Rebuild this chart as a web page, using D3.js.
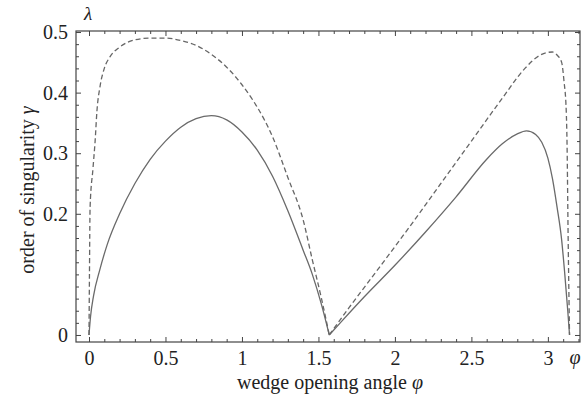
<!DOCTYPE html>
<html>
<head>
<meta charset="utf-8">
<script src="https://cdn.jsdelivr.net/npm/d3@7"></script>
<style>
	body { margin: 0; background: #fff; }
	svg text { font-family: "Liberation Serif", "DejaVu Serif", serif; fill: #222; }
	.frame-axis .domain { display: none; }
	.frame-axis line { stroke: #444; stroke-width: 1; }
</style>
</head>
<body>
<div id="chart"></div>
<script>
// wedge opening angle (rad) and order of singularity
const solidPhi = [0, 0.01, 0.03, 0.07, 0.12, 0.2, 0.3, 0.4, 0.5, 0.6, 0.7, 0.8, 0.9, 1.0, 1.1, 1.2, 1.3, 1.4, 1.46, 1.52, 1.5708,
	1.65, 1.8, 2.0, 2.2, 2.4, 2.6, 2.7, 2.8, 2.86, 2.92, 2.96, 3.0, 3.03, 3.06, 3.09, 3.11, 3.13, 3.1416];
const solidVal = [0, 0.03, 0.065, 0.107, 0.15, 0.2, 0.25, 0.29, 0.32, 0.343, 0.357, 0.362, 0.355, 0.335, 0.305, 0.262, 0.205, 0.14, 0.1, 0.05, 0,
	0.022, 0.063, 0.115, 0.17, 0.228, 0.29, 0.315, 0.332, 0.337, 0.331, 0.318, 0.292, 0.258, 0.211, 0.157, 0.102, 0.04, 0];

const dashedPhi = [0, 0.003, 0.007, 0.026, 0.04, 0.052, 0.072, 0.1, 0.137, 0.2, 0.3, 0.4, 0.5, 0.6, 0.7, 0.8, 0.9, 1.0, 1.07, 1.1, 1.2, 1.3, 1.4, 1.46, 1.52, 1.5708,
	1.7, 1.9, 2.1, 2.3, 2.5, 2.7, 2.85, 2.95, 2.99, 3.03, 3.06, 3.09, 3.105, 3.12, 3.125, 3.133, 3.1416];
const dashedVal = [0, 0.1, 0.21, 0.275, 0.32, 0.37, 0.41, 0.44, 0.459, 0.475, 0.487, 0.49, 0.49, 0.486, 0.478, 0.463, 0.442, 0.413, 0.388, 0.376, 0.327, 0.26, 0.19, 0.124, 0.06, 0,
	0.045, 0.112, 0.18, 0.25, 0.32, 0.39, 0.44, 0.462, 0.466, 0.467, 0.462, 0.45, 0.42, 0.37, 0.32, 0.15, 0];

const xMajor = [0, 0.5, 1, 1.5, 2, 2.5, 3];
const yMajor = [0, 0.2, 0.3, 0.4, 0.5];

const width = 582;
const height = 399;
const frame = { left: 76, right: 580, top: 31, bottom: 342 };

const svg = d3.select("#chart")
	.append("svg")
	.attr("width", width)
	.attr("height", height);

const x = d3.scaleLinear()
	.domain([-0.085, 3.21])
	.range([frame.left, frame.right]);

const y = d3.scaleLinear()
	.domain([-0.0116, 0.5017])
	.range([frame.bottom, frame.top]);

const xMinor = d3.range(0, 3.21, 0.1).filter(v => Math.abs(v * 2 - Math.round(v * 2)) > 1e-6);
const yMinor = d3.range(0, 0.501, 0.02).filter(v => !yMajor.some(m => Math.abs(m - v) < 1e-6));

// ticks on all four sides, pointing in
const axes = svg.append("g").attr("class", "frame-axis");

axes.append("g")
	.attr("transform", `translate(0,${frame.bottom})`)
	.call(d3.axisBottom(x).tickValues(xMajor).tickSize(-5).tickPadding(9).tickFormat(d3.format("")))
	.call(g => g.selectAll("text").style("font-size", "20px").attr("fill", "#222"));
axes.append("g")
	.attr("transform", `translate(0,${frame.bottom})`)
	.call(d3.axisBottom(x).tickValues(xMinor).tickSize(-3).tickFormat(""));
axes.append("g")
	.attr("transform", `translate(0,${frame.top})`)
	.call(d3.axisTop(x).tickValues(xMajor).tickSize(-5).tickFormat(""));
axes.append("g")
	.attr("transform", `translate(0,${frame.top})`)
	.call(d3.axisTop(x).tickValues(xMinor).tickSize(-3).tickFormat(""));

axes.append("g")
	.attr("transform", `translate(${frame.left},0)`)
	.call(d3.axisLeft(y).tickValues(yMajor).tickSize(-5).tickPadding(8).tickFormat(d3.format("")))
	.call(g => g.selectAll("text").style("font-size", "20px").attr("fill", "#222"));
axes.append("g")
	.attr("transform", `translate(${frame.left},0)`)
	.call(d3.axisLeft(y).tickValues(yMinor).tickSize(-3).tickFormat(""));
axes.append("g")
	.attr("transform", `translate(${frame.right},0)`)
	.call(d3.axisRight(y).tickValues(yMajor).tickSize(-5).tickFormat(""));
axes.append("g")
	.attr("transform", `translate(${frame.right},0)`)
	.call(d3.axisRight(y).tickValues(yMinor).tickSize(-3).tickFormat(""));

svg.append("rect")
	.attr("x", frame.left)
	.attr("y", frame.top)
	.attr("width", frame.right - frame.left)
	.attr("height", frame.bottom - frame.top)
	.attr("fill", "none")
	.attr("stroke", "#444")
	.attr("stroke-width", 1.2);

// split a series into arches at its interior zeros so the cusps stay sharp
function arches(phi, val) {
	const pts = d3.zip(phi, val);
	const out = [[pts[0]]];
	pts.slice(1).forEach((p, i) => {
		out[out.length - 1].push(p);
		if (p[1] === 0 && i < pts.length - 2) out.push([p]);
	});
	return out;
}

const line = d3.line()
	.x(d => x(d[0]))
	.y(d => y(d[1]))
	.curve(d3.curveMonotoneX);

svg.append("g")
	.selectAll("path")
	.data(arches(solidPhi, solidVal))
	.join("path")
	.attr("d", line)
	.attr("fill", "none")
	.attr("stroke", "#6a6a6a")
	.attr("stroke-width", 1.3);

svg.append("g")
	.selectAll("path")
	.data(arches(dashedPhi, dashedVal))
	.join("path")
	.attr("d", line)
	.attr("fill", "none")
	.attr("stroke", "#666")
	.attr("stroke-width", 1.3)
	.attr("stroke-dasharray", "5,3");

// labels
svg.append("text")
	.attr("x", 88)
	.attr("y", 20)
	.attr("text-anchor", "middle")
	.style("font-size", "19px")
	.style("font-style", "italic")
	.text("λ");

svg.append("text")
	.attr("x", 575)
	.attr("y", 364)
	.attr("text-anchor", "middle")
	.style("font-size", "20px")
	.style("font-style", "italic")
	.text("φ");

const xTitle = svg.append("text")
	.attr("x", 330)
	.attr("y", 389)
	.attr("text-anchor", "middle")
	.style("font-size", "20px");
xTitle.append("tspan").text("wedge opening angle ");
xTitle.append("tspan").style("font-style", "italic").text("φ");

const yTitle = svg.append("text")
	.attr("transform", "translate(34,190) rotate(-90)")
	.attr("text-anchor", "middle")
	.style("font-size", "20px");
yTitle.append("tspan").text("order of singularity ");
yTitle.append("tspan").style("font-style", "italic").text("γ");
</script>
</body>
</html>
